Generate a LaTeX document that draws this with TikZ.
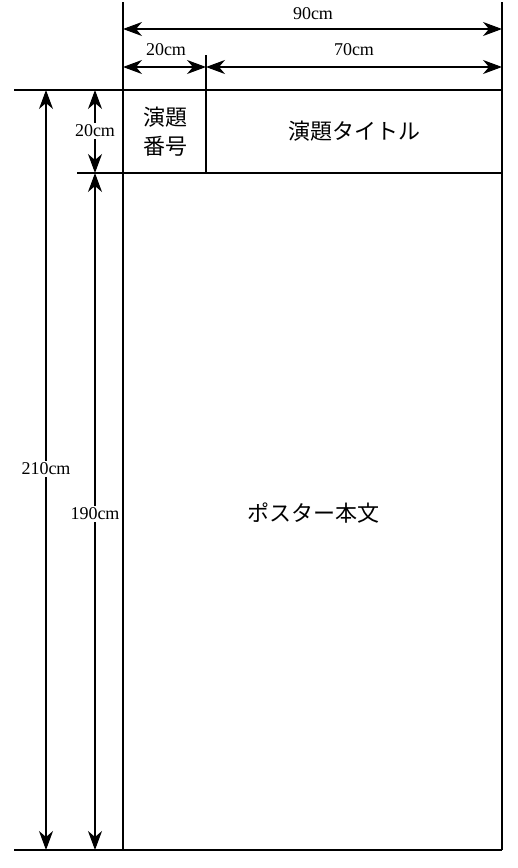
\documentclass[tikz,border=0pt]{standalone}
\usepackage{fontspec}
\usepackage{tikz}
\usepackage{xcolor}
\usetikzlibrary{arrows.meta}
\newfontfamily\jpfont{Noto Sans CJK JP}
\newfontfamily\numfont{Liberation Serif}

\tikzset{
  edge/.style={line width=1.2pt},
  dimline/.style={line width=1.1pt, {Stealth[length=19pt,width=14pt,inset=6pt]}-{Stealth[length=19pt,width=14pt,inset=6pt]}},
  dimlabel/.style={fill=white, inner sep=1.5pt, font=\numfont\fontsize{18}{20}\selectfont},
  jptext/.style={inner sep=0.75pt, align=center, font=\jpfont\fontsize{22}{29}\selectfont}
}

\begin{document}
\begin{tikzpicture}[x=1pt,y=1pt,yscale=-1,xscale=1]
\useasboundingbox (0,0) rectangle (518,868);

% corners of the poster
\coordinate (tl) at (123,90);
\coordinate (tr) at (502,90);
\coordinate (bl) at (123,850);
\coordinate (br) at (502,850);
\coordinate (ml) at (123,173);
\coordinate (mr) at (502,173);
\coordinate (dv) at (206,173);
% extension line ends
\coordinate (tlx) at (123,2);
\coordinate (trx) at (502,2);
\coordinate (dvx) at (206,55);
\coordinate (tll) at (14,90);
\coordinate (mll) at (77,173);
\coordinate (bll) at (14,850);

%Straight Lines
\draw [edge] (tlx) -- (bl) ;
\draw [edge] (trx) -- (br) ;
\draw [edge] (tll) -- (tr) ;
\draw [edge] (mll) -- (mr) ;
\draw [edge] (bll) -- (br) ;
\draw [edge] (dvx) -- (dv) ;

% Dimension lines
\coordinate (a90l) at (123,29);
\coordinate (a90r) at (502,29);
\coordinate (a20l) at (123,67);
\coordinate (a20r) at (206,67);
\coordinate (a70r) at (502,67);
\coordinate (v210t) at (46,90);
\coordinate (v210b) at (46,850);
\coordinate (v20t) at (95,90);
\coordinate (v20b) at (95,173);
\coordinate (v190b) at (95,850);

\draw [dimline] (a90l) -- (a90r) ;
\draw [dimline] (a20l) -- (a20r) ;
\draw [dimline] (a20r) -- (a70r) ;
\draw [dimline] (v210t) -- (v210b) ;
\draw [dimline] (v20t) -- (v20b) ;
\draw [dimline] (v20b) -- (v190b) ;

% Text Node
\node (l90) [dimlabel, fill=none] at (313,14) {90cm};
% Text Node
\node (l20h) [dimlabel, fill=none] at (166,50) {20cm};
% Text Node
\node (l70) [dimlabel, fill=none] at (354,50) {70cm};
% Text Node
\node (l20v) [dimlabel] at (95,131) {20cm};
% Text Node
\node (l210) [dimlabel] at (46,469) {210cm};
% Text Node
\node (l190) [dimlabel] at (95,514) {190cm};

% Text Node
\node (number) [jptext] at (165,132) {演題\\番号};
% Text Node
\node (title) [jptext] at (354,131) {演題タイトル};
% Text Node
\node (body) [jptext] at (313,513) {ポスター本文};

\end{tikzpicture}
\end{document}
